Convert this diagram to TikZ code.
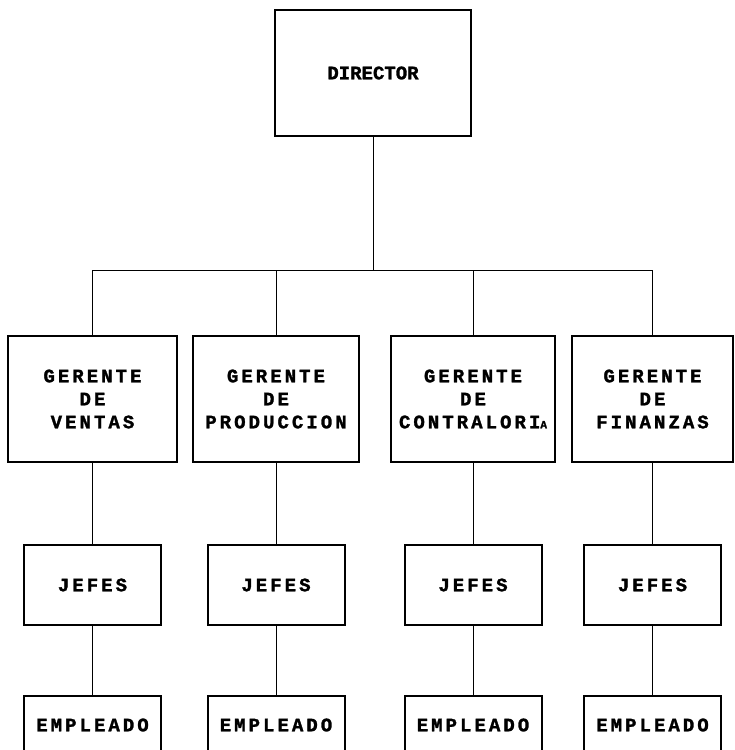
\documentclass[tikz,border=0pt]{standalone}
\usepackage{fontspec}
\usepackage{tikz}
\usetikzlibrary{positioning,calc}
\newfontfamily\boxfont[LetterSpace=16, BoldFeatures={FakeBold=1.5}]{Liberation Mono}
\newfontfamily\dirfont[BoldFeatures={FakeBold=1.5}]{Liberation Mono}
\tikzset{
    puesto/.style={draw, rectangle, line width=2pt, inner sep=2pt, outer sep=0pt, align=center, font=\boxfont\bfseries\fontsize{19}{23}\selectfont},
    dirbox/.style={puesto, minimum width=196pt, minimum height=126pt, font=\dirfont\bfseries\fontsize{19}{23}\selectfont},
    gerbox/.style={puesto, minimum width=166pt, minimum height=126pt},
    jefbox/.style={puesto, minimum width=137pt, minimum height=80pt},
    empbox/.style={puesto, minimum width=137pt, minimum height=58pt},
    linea/.style={line width=1pt}
}

\begin{document}
\begin{tikzpicture}[x=1pt, y=1pt]
                    \useasboundingbox (0,0) rectangle (735,-750);
                    \clip (0,0) rectangle (735,-750);
                    
                    \node[dirbox] (dir) at (373,-73) {DIRECTOR};
                    
                    % Gerentes
                    \node[gerbox, minimum width=169pt] (gv) at (92.5,-399) {GERENTE\\DE\\VENTAS};
                    \node[gerbox] (gp) at (276,-399) {GERENTE\\DE\\PRODUCCION};
                    \node[gerbox, minimum width=164pt] (gc) at (473,-399) {GERENTE\\DE\\CONTRALORI{\fontsize{11}{23}\selectfont A}};
                    \node[gerbox, minimum width=161pt] (gf) at (652.5,-399) {GERENTE\\DE\\FINANZAS};
                    
                    % Jefes
                    \node[jefbox, below=83pt of gv] (jv) {JEFES};
                    \node[jefbox, below=83pt of gp] (jp) {JEFES};
                    \node[jefbox, below=83pt of gc] (jc) {JEFES};
                    \node[jefbox, below=83pt of gf] (jf) {JEFES};
                    
                    % Empleados (cut by the page at the bottom)
                    \node[empbox, below=71pt of jv] (ev) {EMPLEADO};
                    \node[empbox, below=71pt of jp] (ep) {EMPLEADO};
                    \node[empbox, below=71pt of jc] (ec) {EMPLEADO};
                    \node[empbox, below=71pt of jf] (ef) {EMPLEADO};
                    
                    \coordinate (bus) at (0,-270);
                    \draw[linea] (dir.south) -- (dir.south |- bus);
                    \draw[linea] (gv.north |- bus) -- (gf.north |- bus);
                    \draw[linea] (gv.north |- bus) -- (gv.north);
                    \draw[linea] (gp.north |- bus) -- (gp.north);
                    \draw[linea] (gc.north |- bus) -- (gc.north);
                    \draw[linea] (gf.north |- bus) -- (gf.north);
                    
                    \draw[linea] (gv.south) -- (jv.north);
                    \draw[linea] (gp.south) -- (jp.north);
                    \draw[linea] (gc.south) -- (jc.north);
                    \draw[linea] (gf.south) -- (jf.north);
                    
                    \draw[linea] (jv.south) -- (ev.north);
                    \draw[linea] (jp.south) -- (ep.north);
                    \draw[linea] (jc.south) -- (ec.north);
                    \draw[linea] (jf.south) -- (ef.north);
                \end{tikzpicture}
\end{document}
